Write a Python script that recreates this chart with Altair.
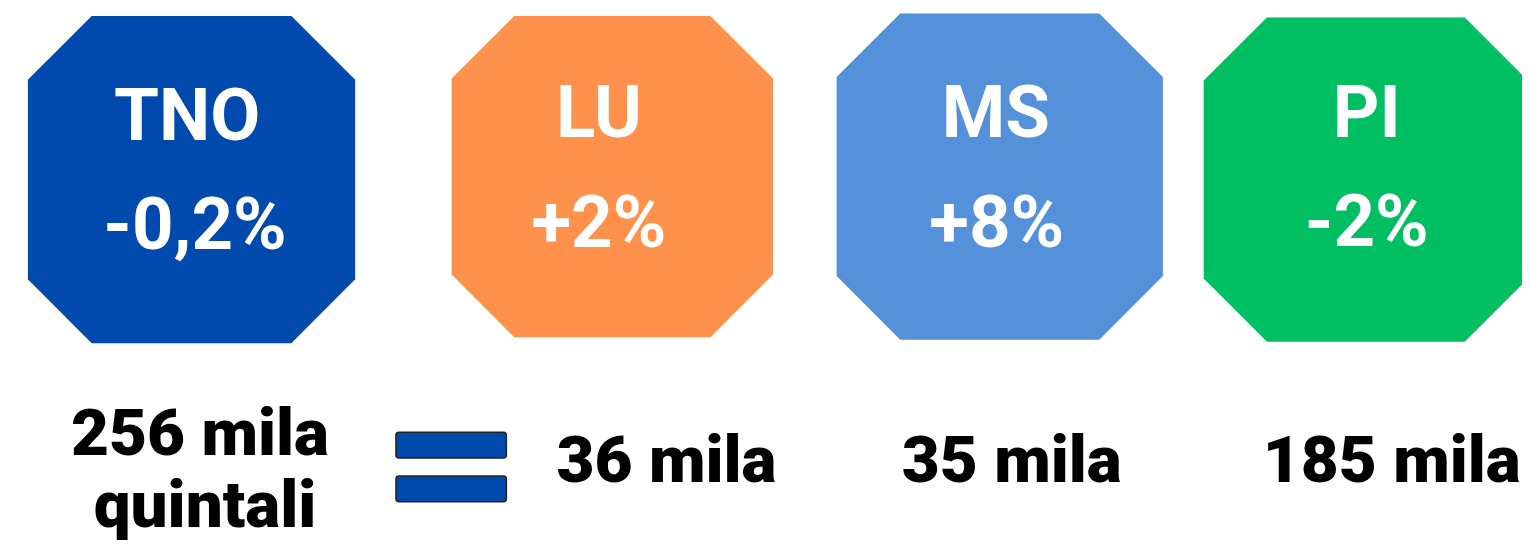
import altair as alt
import pandas as pd

# ---- data ----
regions = ["TNO", "LU", "MS", "PI"]
changes = ["-0,2%", "+2%", "+8%", "-2%"]
volumes = ["256 mila", "36 mila", "35 mila", "185 mila"]
volume_unit = ["quintali", "", "", ""]
colors = ["#004AAD", "#FF914D", "#5591DA", "#00BF63"]

# ---- layout (page pixels) ----
oct_cx = [192.5, 615.5, 1005, 1373]
oct_cy = [179, 176, 176, 179]
oct_w = [329, 323, 328, 326]
label_x = [188, 602, 1001, 1374]
label_base = [139, 136, 136, 136]
pct_x = [196, 602, 1002, 1374]
pct_base = [249, 247, 247, 246]
vol_x = [201, 670, 1017, 1399]
vol_base = [456, 483, 483, 483]
unit_x = [206, 0, 0, 0]
unit_base = [528, 0, 0, 0]
eq_x1 = [398, 398]
eq_x2 = [509, 509]
eq_y1 = [433, 477]
eq_y2 = [459, 503]

W, H = 1522, 540
xs = alt.Scale(domain=[8, 8 + W], range=[0, W], nice=False, zero=False)
ys = alt.Scale(domain=[8, 8 + H], range=[0, H], nice=False, zero=False)

OCT = "M -0.61,-1 L 0.61,-1 L 1,-0.61 L 1,0.61 L 0.61,1 L -0.61,1 L -1,0.61 L -1,-0.61 Z"

octs = pd.DataFrame({
    "region": regions, "x": oct_cx, "y": oct_cy,
    "size": [w * w for w in oct_w], "color": colors,
})
labels = pd.DataFrame({"t": regions, "x": label_x, "y": label_base})
pcts = pd.DataFrame({"t": changes, "x": pct_x, "y": pct_base})
vols = pd.DataFrame({"t": volumes, "x": vol_x, "y": vol_base})
units = pd.DataFrame({"t": volume_unit, "x": unit_x, "y": unit_base})
units = units[units["t"] != ""]
eq = pd.DataFrame({"x": eq_x1, "x2": eq_x2, "y": eq_y1, "y2": eq_y2})

X = lambda f="x": alt.X(f"{f}:Q", scale=xs, axis=None)
Y = lambda f="y": alt.Y(f"{f}:Q", scale=ys, axis=None)

octagons = alt.Chart(octs).mark_point(shape=OCT, filled=True, opacity=1, strokeWidth=0).encode(
    x=X(), y=Y(),
    size=alt.Size("size:Q", scale=None, legend=None),
    color=alt.Color("color:N", scale=None, legend=None),
)

def text_layer(df, size, weight, color, font="Roboto"):
    return alt.Chart(df).mark_text(
        font=font, fontSize=size, fontWeight=weight, color=color,
        align="center", baseline="alphabetic",
    ).encode(x=X(), y=Y(), text="t:N")

lab = text_layer(labels, 73, 700, "white")
pct = text_layer(pcts, 73, 700, "white")
vol = text_layer(vols, 66, 900, "black")
uni = text_layer(units, 66, 900, "black")

equals = alt.Chart(eq).mark_rect(
    color="#004AAD", stroke="#222222", strokeWidth=1.5, cornerRadius=3
).encode(x=X(), x2="x2:Q", y=Y(), y2="y2:Q")

chart = alt.layer(octagons, lab, pct, equals, vol, uni).properties(
    width=W, height=H, padding=0, autosize=alt.AutoSizeParams(type="none"),
    background="white",
).configure_view(stroke=None)

chart.save("out.html", embed_options={"renderer": "svg", "actions": False})
